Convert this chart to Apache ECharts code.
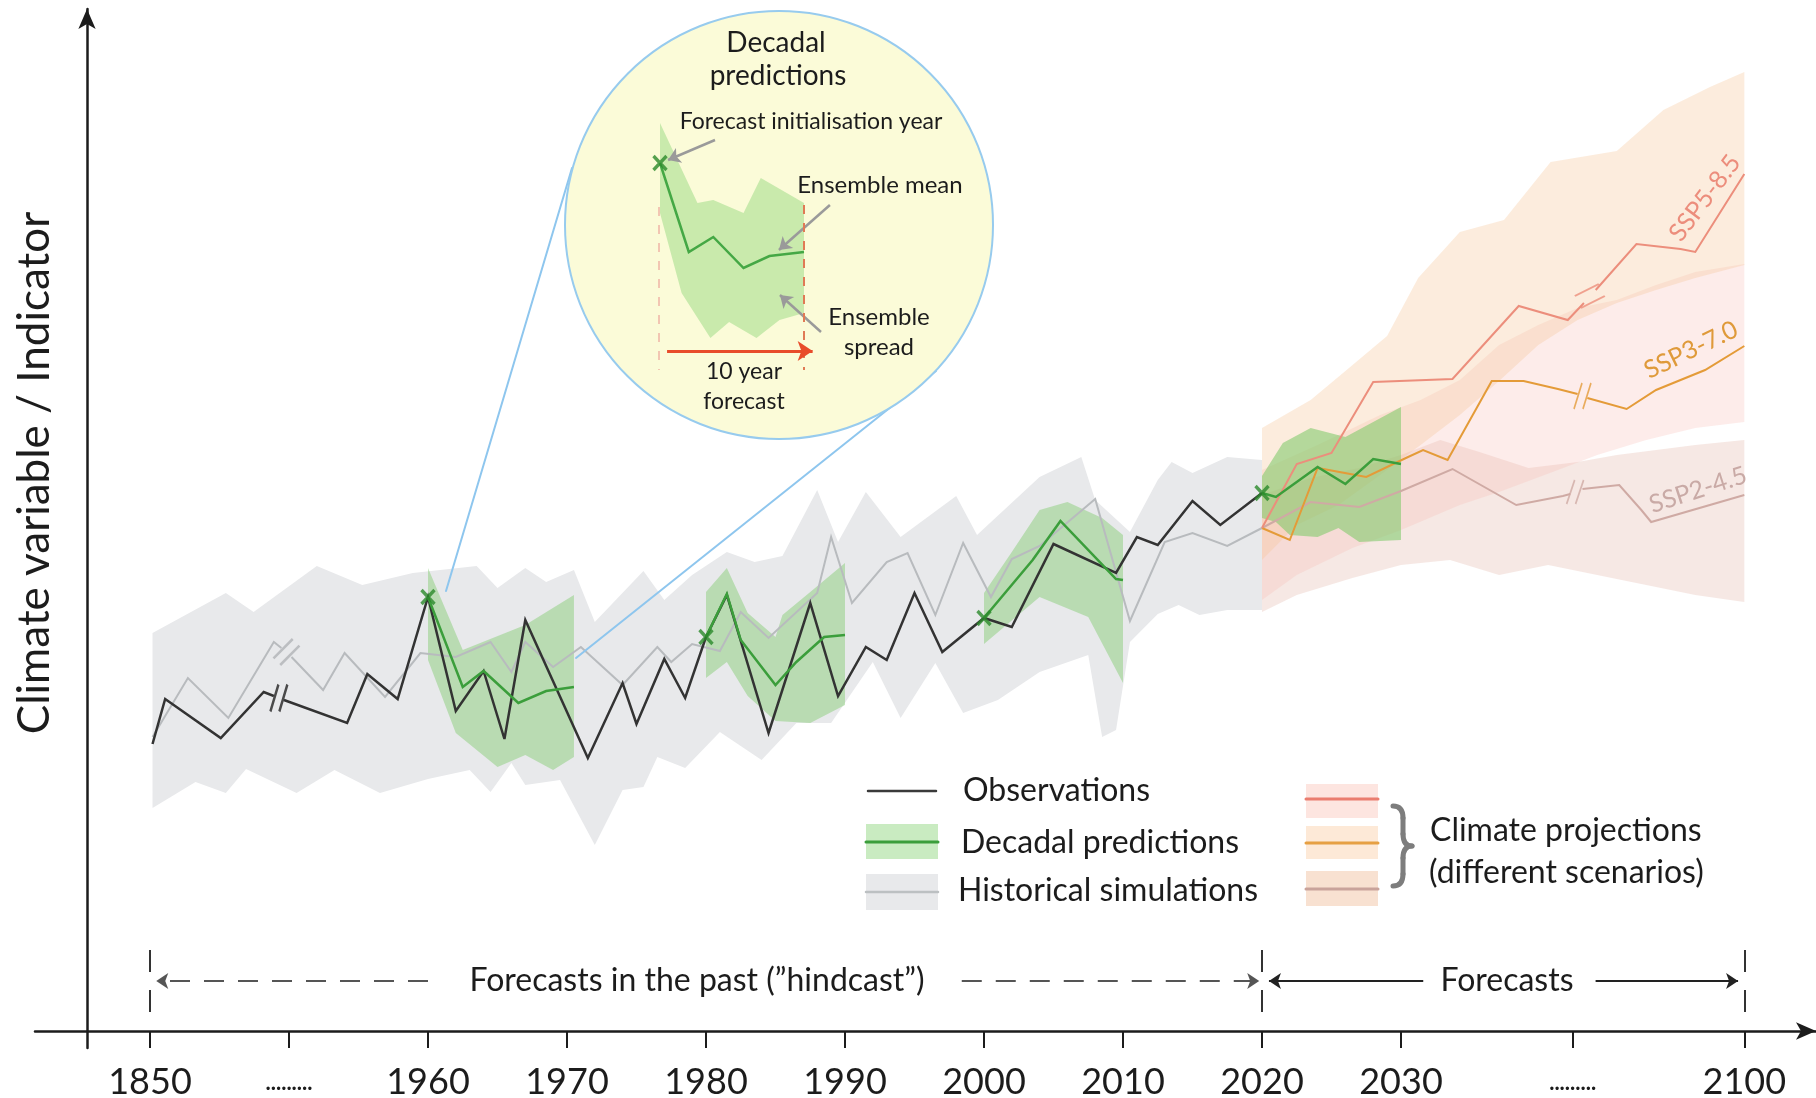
<!DOCTYPE html>
<html lang="en">
<head>
<meta charset="utf-8">
<title>Decadal predictions and climate projections</title>
<script src="https://cdn.jsdelivr.net/npm/echarts@6.0.0/dist/echarts.min.js"></script>
<style>
html, body { margin: 0; padding: 0; background: #ffffff; }
#chart { width: 1816px; height: 1098px; }
</style>
</head>
<body>
<div id="chart"></div>
<script>
// ---------------- time axis (compressed before 1960 and after 2030) ----------------
const TICK_YEARS = [1850, 1905, 1960, 1970, 1980, 1990, 2000, 2010, 2020, 2030, 2065, 2100];
const TICK_LABELS = ['1850', '.........', '1960', '1970', '1980', '1990', '2000', '2010', '2020', '2030', '.........', '2100'];

// ---------------- observations (schematic indicator units); null = axis break gap ----------------
const OBSERVATIONS = [
  [1851, 28.7], [1856, 33.2], [1878, 29.3], [1895, 33.9], [1899, 33.5], [1901, null], [1903, 33.1],
  [1928, 30.8], [1936, 35.7], [1948, 33.2], [1960, 43.4], [1962, 32.0], [1964, 36.0], [1965.5, 29.2],
  [1967, 41.1], [1971.5, 27.3], [1974, 34.8], [1975, 30.7], [1977, 37.2], [1978.5, 33.3], [1980, 39.4],
  [1981.5, 43.6], [1984.5, 29.8], [1987.5, 42.8], [1989.5, 33.5], [1991.5, 38.4], [1993, 37.1],
  [1995, 43.8], [1997, 37.9], [2000, 41.3], [2002, 40.4], [2005, 48.7], [2009.5, 45.8], [2011, 49.4],
  [2012.5, 48.6], [2015, 53.0], [2017, 50.6], [2020, 53.8]
];
const OBS_BREAK = [[1901, 33.3]];

// ---------------- historical simulations ----------------
const HIST_MEAN = [
  [1851, 29.4], [1865, 35.3], [1881, 31.3], [1899, 38.9], [1902, 38.3], [1904, null], [1906, 37.4],
  [1918.5, 34.1], [1927, 37.8], [1943, 33.4], [1957, 37.8], [1962, 37.4], [1964.5, 38.9], [1966, 35.9],
  [1967, 38.9], [1969, 36.4], [1971, 38.4], [1974, 34.6], [1976.5, 38.4], [1977.5, 36.9], [1979, 38.7],
  [1981, 38.0], [1982.5, 41.9], [1984.5, 39.3], [1988, 43.8], [1989, 49.4], [1990.5, 42.8], [1993, 46.9],
  [1994.5, 47.8], [1996.5, 41.6], [1998.5, 48.8], [2000.5, 43.4], [2002, 47.2], [2004, 48.5], [2008, 53.2],
  [2010.5, 41.0], [2013, 48.9], [2015, 49.8], [2017.5, 48.5], [2020, 50.3]
];
const HIST_BREAK = [[1904, 37.9]];
const HIST_UPPER = [
  [1851, 39.8], [1880, 43.8], [1891, 41.9], [1916, 46.5], [1934, 44.6], [1954, 45.8], [1963.5, 46.5],
  [1965, 44.3], [1967, 46.3], [1968.5, 44.9], [1970.5, 46.1], [1972, 40.9], [1975.5, 46.0], [1977, 43.1],
  [1979, 45.6], [1981.5, 47.9], [1983.5, 46.9], [1985.5, 47.5], [1988, 54.1], [1989.5, 48.9], [1991.5, 53.9],
  [1994, 49.4], [1998, 53.5], [1999.5, 49.6], [2004, 55.4], [2007, 57.4], [2008, 53.1], [2010.5, 49.9],
  [2012.5, 55.1], [2013.5, 56.9], [2015, 55.8], [2017.5, 57.4], [2020, 57.1]
];
const HIST_LOWER = [
  [1851, 22.3], [1868, 24.9], [1880, 23.8], [1888, 26.2], [1908, 23.8], [1923, 26.1], [1941, 23.8],
  [1960, 25.2], [1963, 26.1], [1964.5, 23.9], [1966, 26.8], [1967, 24.6], [1969.5, 25.1], [1972, 18.6],
  [1974, 24.1], [1975.5, 24.4], [1976.5, 27.4], [1978.5, 26.3], [1981, 29.9], [1984, 27.1], [1986.5, 30.8],
  [1989, 30.8], [1992, 36.9], [1994, 31.3], [1996.5, 36.8], [1998.5, 31.8], [2001, 33.1], [2004, 35.9],
  [2007.5, 37.6], [2008.5, 29.4], [2009.5, 30.1], [2010.5, 38.9], [2012.5, 41.7], [2014, 42.6],
  [2015.5, 41.6], [2017.5, 42.1], [2020, 42.1]
];

// ---------------- decadal predictions (ensemble mean and spread) ----------------
const INIT_YEARS = [1960, 1980, 2000, 2020];
const DEC1960_MEAN = [[1960, 43.4], [1962.5, 34.4], [1964, 36.0], [1966.5, 32.8], [1968.5, 34.0], [1970.5, 34.4]];
const DEC1960_UPPER = [[1960, 46.3], [1962.5, 38.1], [1967, 40.6], [1970.5, 43.6]];
const DEC1960_LOWER = [[1960, 37.1], [1962, 29.8], [1965, 26.4], [1967, 27.6], [1969, 26.1], [1970.5, 27.4]];
const DEC1980_MEAN = [[1980, 39.4], [1981.5, 43.7], [1982.5, 39.1], [1985, 34.6], [1986.5, 36.9], [1988.5, 39.4], [1990, 39.6]];
const DEC1980_UPPER = [[1980, 43.9], [1981.5, 46.3], [1983, 41.8], [1985, 39.4], [1985.5, 41.6], [1987.5, 43.9], [1990, 46.8]];
const DEC1980_LOWER = [[1980, 35.3], [1981.5, 36.9], [1983, 33.5], [1985, 31.0], [1987.5, 30.8], [1990, 32.6]];
const DEC2000_MEAN = [[2000, 41.3], [2003.5, 47.1], [2005.5, 51.0], [2009.5, 45.2], [2010, 45.1]];
const DEC2000_UPPER = [[2000, 43.8], [2002, 47.9], [2004, 52.1], [2006, 52.9], [2008.5, 51.3], [2010, 49.6]];
const DEC2000_LOWER = [[2000, 38.7], [2004, 43.4], [2007.5, 41.4], [2010, 34.8]];
const DEC2020_MEAN = [[2020, 53.8], [2021, 53.4], [2024, 56.4], [2026, 54.7], [2028, 57.2], [2030, 56.7]];
const DEC2020_UPPER = [[2020, 55.5], [2021.5, 58.8], [2023.5, 60.3], [2026, 59.4], [2030, 62.4]];
const DEC2020_LOWER = [[2020, 51.3], [2021, 50.9], [2022, 49.6], [2024, 49.4], [2025.5, 50.3], [2027, 48.9], [2030, 49.1]];

// ---------------- climate projections (three scenarios) ----------------
const SSP585_MEAN = [
  [2020, 50.3], [2022.5, 56.7], [2025, 57.8], [2028, 64.9], [2040.5, 65.2], [2054, 72.5], [2064, 71.1],
  [2067.3, 72.8], [2068.5, null], [2069.7, 74.1], [2078, 78.7], [2087, 78.2], [2090, 77.9], [2100, 85.7]
];
const SSP585_UPPER = [
  [2020, 60.3], [2023.5, 63.1], [2026, 66.0], [2029, 69.5], [2033.5, 75.3], [2042, 79.9], [2051, 81.1],
  [2060.5, 86.9], [2074, 88.0], [2083.5, 92.1], [2093, 94.4], [2100, 95.9]
];
const SSP585_LOWER = [
  [2020, 47.1], [2022.5, 50.6], [2025.5, 52.6], [2028.5, 55.6], [2034, 58.6], [2042, 61.6], [2050, 65.0],
  [2058, 68.6], [2066, 71.1], [2074, 72.8], [2082, 74.1], [2090, 75.3], [2100, 76.6]
];
const SSP585_BREAK = [[2068.5, 73.5]];

const SSP370_MEAN = [
  [2020, 50.3], [2022, 49.1], [2024, 56.3], [2027.5, 55.4], [2031, 57.3], [2034.5, 58.1], [2039.5, 57.1],
  [2048.5, 65.0], [2055, 65.0], [2062, 64.2], [2066, 63.7], [2067, null], [2068, 63.3], [2076, 62.2],
  [2082, 64.1], [2092, 66.1], [2100, 68.5]
];
const SSP370_UPPER = [
  [2020, 56.1], [2024, 58.6], [2028.5, 61.6], [2034, 63.1], [2042, 65.1], [2050, 68.6], [2058, 70.6],
  [2066, 72.3], [2074, 73.1], [2082, 74.6], [2090, 75.9], [2100, 76.7]
];
const SSP370_LOWER = [
  [2020, 43.1], [2022.5, 45.6], [2026.5, 48.3], [2030, 50.1], [2042, 52.6], [2050, 53.9], [2062, 56.1],
  [2070, 57.6], [2080, 59.1], [2090, 60.3], [2100, 60.9]
];
const SSP370_BREAK = [[2067, 63.5]];

const SSP245_MEAN = [
  [2020, 50.3], [2023.5, 52.9], [2027, 52.4], [2030, 54.0], [2040.5, 56.2], [2053.5, 52.6], [2063, 53.5],
  [2064.5, 53.7], [2065.5, null], [2067, 54.2], [2074.5, 54.6], [2079, 52.1], [2081, 50.9], [2100, 53.6]
];
const SSP245_UPPER = [
  [2020, 53.6], [2023.5, 55.3], [2027, 56.3], [2030, 57.6], [2038, 59.1], [2046, 57.9], [2056, 56.3],
  [2066, 56.9], [2074, 57.6], [2082, 58.1], [2090, 58.6], [2100, 59.1]
];
const SSP245_LOWER = [
  [2020, 41.9], [2022.5, 43.6], [2026.5, 45.3], [2030, 46.6], [2040, 47.1], [2050, 45.6], [2060, 46.6],
  [2070, 45.6], [2080, 44.6], [2090, 43.6], [2100, 42.9]
];
const SSP245_BREAK = [[2065.5, 53.9]];

// ---------------- inset: a single 10-year forecast (years after initialisation) ----------------
const INSET_MEAN = [[0, 19.7], [2.0, 10.8], [3.7, 12.3], [5.8, 9.2], [7.6, 10.4], [10, 10.8]];
const INSET_UPPER = [[0, 23.7], [2.6, 15.7], [3.7, 16.0], [5.8, 14.7], [7.0, 18.2], [10, 15.7]];
const INSET_LOWER = [[0, 14.7], [1.5, 6.7], [3.5, 2.2], [4.8, 3.8], [6.7, 2.2], [8.3, 4.0], [10, 4.7]];

// ======================================================================
const FONT = 'Lato, "Open Sans", "DejaVu Sans", sans-serif';
const INK = '#1c1c1c';

// broken time axis: 1850-1960 and 2030-2100 are drawn compressed
function axisPos(year) {
  if (year <= 1960) return 1940 + (year - 1850) * 20 / 110;
  if (year >= 2030) return 2030 + (year - 2030) * 24.7 / 70;
  return year;
}
const toAxis = pts => pts.map(p => [axisPos(p[0]), p[1]]);
const same = v => v;

const TICK_POS = TICK_YEARS.map(axisPos);
function tickLabel(value) {
  const i = TICK_POS.findIndex(p => Math.abs(p - value) < 1e-6);
  if (i < 0) return '';
  const t = TICK_LABELS[i];
  return t.charAt(0) === '.' ? '{d|' + t + '}' : t;
}

function band(upper, lower, fill, z, mapX, axisIndex) {
  const mx = mapX || axisPos;
  const idx = axisIndex || 0;
  return {
    type: 'custom', xAxisIndex: idx, yAxisIndex: idx, z: z, silent: true,
    data: [[mx(upper[0][0]), upper[0][1]]],
    renderItem: function (params, api) {
      const ring = upper.concat(lower.slice().reverse());
      return {
        type: 'polygon',
        shape: { points: ring.map(p => api.coord([mx(p[0]), p[1]])) },
        style: { fill: fill }
      };
    }
  };
}

function line(data, color, width, z, extra) {
  return Object.assign({
    type: 'line', data: toAxis(data), symbol: 'none', showSymbol: false, silent: true,
    connectNulls: false, z: z,
    lineStyle: { color: color, width: width, join: 'miter', miterLimit: 4 }
  }, extra || {});
}

function marks(points, color, path, size, width) {
  return {
    type: 'scatter', data: toAxis(points), symbol: path, symbolSize: size, z: 9, silent: true,
    itemStyle: { color: 'rgba(0,0,0,0)', borderColor: color, borderWidth: width || 2.5 }
  };
}

const STEEP_BREAK = 'path://M0,26 L9,0 M10,26 L19,0';
const DIAG_BREAK = 'path://M0,20 L20,0 M7,27 L27,7';
const SHALLOW_BREAK = 'path://M0,12 L24,0 M6,24 L30,12';
const X_MARK = 'path://M0,0 L10,12 M10,0 L0,12';

const GREEN_BAND = 'rgba(120,200,100,0.42)';
const GREEN_LINE = '#3b9e3b';

const initPoints = INIT_YEARS.map(y => OBSERVATIONS.find(p => p[0] === y));

// annotation row under the plot: "hindcast" and "forecast" spans
const ROW = 5.0;
const annotationLines = [
  [{ coord: [axisPos(1850), 8.1], symbol: 'none', lineStyle: { color: '#333', width: 2, type: [22, 18] } }, { coord: [axisPos(1850), 1.8], symbol: 'none' }],
  [{ coord: [axisPos(2020), 8.1], symbol: 'none', lineStyle: { color: '#333', width: 2, type: [22, 18] } }, { coord: [axisPos(2020), 1.8], symbol: 'none' }],
  [{ coord: [axisPos(2100), 8.1], symbol: 'none', lineStyle: { color: '#333', width: 2, type: [22, 18] } }, { coord: [axisPos(2100), 1.8], symbol: 'none' }],
  [{ coord: [1960, ROW], symbol: 'none', lineStyle: { color: '#555', width: 2, type: [20, 14] } }, { coord: [axisPos(1850) + 0.45, ROW], symbol: 'arrow' }],
  [{ coord: [1998.4, ROW], symbol: 'none', lineStyle: { color: '#555', width: 2, type: [20, 14] } }, { coord: [2019.8, ROW], symbol: 'arrow' }],
  [{ coord: [2031.6, ROW], symbol: 'none', lineStyle: { color: '#222', width: 2, type: 'solid' } }, { coord: [2020.5, ROW], symbol: 'arrow' }],
  [{ coord: [2044.0, ROW], symbol: 'none', lineStyle: { color: '#222', width: 2, type: 'solid' } }, { coord: [axisPos(2100) - 0.45, ROW], symbol: 'arrow' }]
];

// pointers and spans inside the inset
const insetLines = [
  [{ coord: [3.82, 22.0], symbol: 'none', lineStyle: { color: '#9a9a9a', width: 2.5, type: 'solid' } }, { coord: [0.56, 20.0], symbol: 'arrow' }],
  [{ coord: [11.8, 15.5], symbol: 'none', lineStyle: { color: '#9a9a9a', width: 2.5, type: 'solid' } }, { coord: [8.26, 11.0], symbol: 'arrow' }],
  [{ coord: [11.18, 2.8], symbol: 'none', lineStyle: { color: '#9a9a9a', width: 2.5, type: 'solid' } }, { coord: [8.33, 6.5], symbol: 'arrow' }],
  [{ coord: [-0.07, 15.3], symbol: 'none', lineStyle: { color: '#f2c6b2', width: 2, type: [9, 9] } }, { coord: [-0.07, -1.0], symbol: 'none' }],
  [{ coord: [10, 15.5], symbol: 'none', lineStyle: { color: '#e07a55', width: 2, type: [9, 9] } }, { coord: [10, -1.0], symbol: 'none' }],
  [{ coord: [0.49, 0.9], symbol: 'none', lineStyle: { color: '#e84c2b', width: 3, type: 'solid' } }, { coord: [10.6, 0.9], symbol: 'arrow', symbolSize: 15 }]
];

function txt(x, y, text, size, opts) {
  const o = opts || {};
  return {
    type: 'text', x: x, y: y, z: o.z || 70, rotation: o.rotation || 0, silent: true,
    style: {
      text: text, fill: o.color || INK, font: size + 'px ' + FONT,
      align: o.align || 'center', verticalAlign: 'middle',
      textAlign: o.align || 'center', textVerticalAlign: 'middle'
    }
  };
}
const deg = d => d * Math.PI / 180;
function seg(x1, y1, x2, y2, stroke, width, z) {
  return { type: 'line', z: z || 10, silent: true, shape: { x1: x1, y1: y1, x2: x2, y2: y2 },
    style: { stroke: stroke, lineWidth: width, lineCap: 'round' } };
}
function curve(x1, y1, cx, cy, x2, y2, stroke, width) {
  return { type: 'bezierCurve', z: 10, silent: true,
    shape: { x1: x1, y1: y1, x2: x2, y2: y2, cpx1: cx, cpy1: cy },
    style: { stroke: stroke, lineWidth: width, fill: null, lineCap: 'round' } };
}

const BRACE = '#7d7d7d';
const graphics = [
  // connector lines from the magnifier to the 1960 forecast
  seg(572, 168, 446, 591, '#8ec6ee', 2, 40),
  seg(936, 371, 576, 658, '#8ec6ee', 2, 40),
  // magnifier disc
  { type: 'circle', z: 50, silent: true, shape: { cx: 779, cy: 225, r: 214 }, style: { fill: '#fbfbd8', stroke: '#97cbee', lineWidth: 2 } },
  txt(776, 43, 'Decadal', 28),
  txt(778, 76, 'predictions', 28),
  txt(811, 122, 'Forecast initialisation year', 23),
  txt(880, 185, 'Ensemble mean', 24),
  txt(879, 317, 'Ensemble', 24),
  txt(879, 347, 'spread', 24),
  txt(744, 372, '10 year', 23),
  txt(744, 402, 'forecast', 23),

  // y-axis title
  txt(35, 473, 'Climate variable / Indicator', 44, { rotation: deg(90), z: 10 }),

  // scenario labels
  txt(1705, 198, 'SSP5-8.5', 25, { rotation: deg(53), color: '#ec8d7c', z: 10 }),
  txt(1691, 350, 'SSP3-7.0', 25, { rotation: deg(26), color: '#df9a3a', z: 10 }),
  txt(1698, 490, 'SSP2-4.5', 25, { rotation: deg(18), color: '#c9aaa6', z: 10 }),

  // annotation row texts
  txt(697, 981, 'Forecasts in the past (\u201Dhindcast\u201D)', 32, { z: 10 }),
  txt(1507, 981, 'Forecasts', 32, { z: 10 }),

  // legend (left block)
  seg(868, 791, 936, 791, '#3a3a3a', 2.5),
  txt(963, 791, 'Observations', 32, { align: 'left', z: 10 }),
  { type: 'rect', z: 10, silent: true, shape: { x: 866, y: 824, width: 72, height: 35 }, style: { fill: '#c9ebc1' } },
  seg(866, 842, 938, 842, GREEN_LINE, 3, 11),
  txt(961, 843, 'Decadal predictions', 32, { align: 'left', z: 10 }),
  { type: 'rect', z: 10, silent: true, shape: { x: 866, y: 874, width: 72, height: 36 }, style: { fill: '#e8e9eb' } },
  seg(866, 892, 938, 892, '#bcc0c2', 2.5, 11),
  txt(958, 891, 'Historical simulations', 32, { align: 'left', z: 10 }),

  // legend (scenario block)
  { type: 'rect', z: 10, silent: true, shape: { x: 1306, y: 784, width: 72, height: 34 }, style: { fill: '#fde5e0' } },
  seg(1306, 799, 1378, 799, '#ea7d6f', 3, 11),
  { type: 'rect', z: 10, silent: true, shape: { x: 1306, y: 826, width: 72, height: 33 }, style: { fill: '#fde9d7' } },
  seg(1306, 843, 1378, 843, '#e6a043', 3, 11),
  { type: 'rect', z: 10, silent: true, shape: { x: 1306, y: 871, width: 72, height: 35 }, style: { fill: '#f8e1d1' } },
  seg(1306, 889, 1378, 889, '#c9a39b', 3, 11),
  // curly brace
  curve(1393, 806, 1403, 806, 1403, 818, BRACE, 5),
  seg(1403, 818, 1403, 834, BRACE, 5),
  curve(1403, 834, 1403, 846, 1412, 846, BRACE, 5),
  curve(1412, 846, 1403, 846, 1403, 858, BRACE, 5),
  seg(1403, 858, 1403, 874, BRACE, 5),
  curve(1403, 874, 1403, 886, 1393, 886, BRACE, 5),
  txt(1430, 831, 'Climate projections', 32, { align: 'left', z: 10 }),
  txt(1429, 873, '(different scenarios)', 32, { align: 'left', z: 10 })
];

const series = [
  // spreads
  band(HIST_UPPER, HIST_LOWER, '#e8e9eb', 1),
  band(SSP245_UPPER, SSP245_LOWER, 'rgba(226,178,165,0.30)', 2),
  band(SSP370_UPPER, SSP370_LOWER, 'rgba(248,188,178,0.28)', 2),
  band(SSP585_UPPER, SSP585_LOWER, 'rgba(246,196,150,0.32)', 2),
  band(DEC1960_UPPER, DEC1960_LOWER, GREEN_BAND, 3),
  band(DEC1980_UPPER, DEC1980_LOWER, GREEN_BAND, 3),
  band(DEC2000_UPPER, DEC2000_LOWER, GREEN_BAND, 3),
  band(DEC2020_UPPER, DEC2020_LOWER, 'rgba(120,200,100,0.55)', 3),

  // central estimates
  line(HIST_MEAN, '#b8bbbe', 2, 4),
  line(SSP245_MEAN, '#cfaaa4', 2, 5),
  line(SSP370_MEAN, '#e49b38', 2, 5),
  line(SSP585_MEAN, '#ec8e7c', 2, 5),
  line(OBSERVATIONS, '#333333', 2.5, 6, {
    markLine: {
      silent: true, symbolSize: 12, label: { show: false },
      lineStyle: { type: 'solid' }, data: annotationLines
    }
  }),
  line(DEC1960_MEAN, GREEN_LINE, 2.5, 7),
  line(DEC1980_MEAN, GREEN_LINE, 2.5, 7),
  line(DEC2000_MEAN, GREEN_LINE, 2.5, 7),
  line(DEC2020_MEAN, GREEN_LINE, 2.5, 7),

  // forecast initialisation markers
  {
    type: 'scatter', data: toAxis(initPoints), symbol: X_MARK, symbolSize: [13, 14], z: 8, silent: true,
    itemStyle: { color: 'rgba(0,0,0,0)', borderColor: '#2a8a2a', borderWidth: 3.5 }
  },

  // axis-break marks
  marks(OBS_BREAK, '#222222', STEEP_BREAK, [17, 27], 3),
  marks(HIST_BREAK, '#b0b3b6', DIAG_BREAK, [26, 26], 2.5),
  marks(SSP585_BREAK, '#ec8e7c', SHALLOW_BREAK, [30, 24], 2),
  marks(SSP370_BREAK, '#e49b38', STEEP_BREAK, [17, 26], 2),
  marks(SSP245_BREAK, '#cfaaa4', STEEP_BREAK, [17, 24], 2),

  // inset
  band(INSET_UPPER, INSET_LOWER, 'rgba(140,212,120,0.45)', 60, same, 1),
  {
    type: 'line', xAxisIndex: 1, yAxisIndex: 1, data: INSET_MEAN, symbol: 'none', showSymbol: false,
    silent: true, z: 61, lineStyle: { color: '#45a845', width: 2.5, join: 'miter' },
    markLine: {
      silent: true, z: 63, symbolSize: 12, label: { show: false },
      lineStyle: { type: 'solid' }, data: insetLines
    }
  },
  {
    type: 'scatter', xAxisIndex: 1, yAxisIndex: 1, data: [INSET_MEAN[0]], symbol: X_MARK,
    symbolSize: [13, 14], z: 62, silent: true,
    itemStyle: { color: 'rgba(0,0,0,0)', borderColor: '#2a8a2a', borderWidth: 3.5 }
  }
];

const option = {
  animation: false,
  backgroundColor: '#ffffff',
  textStyle: { fontFamily: FONT },
  grid: [
    { left: 35, right: 0, top: 9, bottom: 50, containLabel: false, outerBoundsMode: 'none' },
    { left: 645.6, top: 100, width: 201.6, height: 280, containLabel: false, outerBoundsMode: 'none' }
  ],
  xAxis: [
    {
      type: 'value', gridIndex: 0, min: 1931.727, max: 2059.856,
      axisLine: { show: true, onZero: true, symbol: ['none', 'arrow'], symbolSize: [13, 20],
        lineStyle: { color: INK, width: 2.5 } },
      axisTick: { show: true, customValues: TICK_POS, length: 17, lineStyle: { color: INK, width: 2 } },
      axisLabel: {
        show: true, customValues: TICK_POS, margin: 16, fontSize: 36, fontFamily: FONT, color: INK,
        formatter: tickLabel,
        rich: { d: { fontSize: 22, fontWeight: 'bold', fontFamily: FONT, color: INK, padding: [8, 0, 0, 0] } }
      },
      splitLine: { show: false }
    },
    { type: 'value', gridIndex: 1, min: -1, max: 13, show: false }
  ],
  yAxis: [
    {
      type: 'value', gridIndex: 0, min: -1.7, max: 102.2, offset: -52,
      axisLine: { show: true, onZero: false, symbol: ['none', 'arrow'], symbolSize: [13, 20],
        lineStyle: { color: INK, width: 2.5 } },
      axisTick: { show: false }, axisLabel: { show: false }, splitLine: { show: false }
    },
    { type: 'value', gridIndex: 1, min: -2, max: 26, show: false }
  ],
  series: series,
  graphic: { elements: graphics }
};

const chart = echarts.init(document.getElementById('chart'), null, { renderer: 'canvas' });
chart.setOption(option);
</script>
</body>
</html>
